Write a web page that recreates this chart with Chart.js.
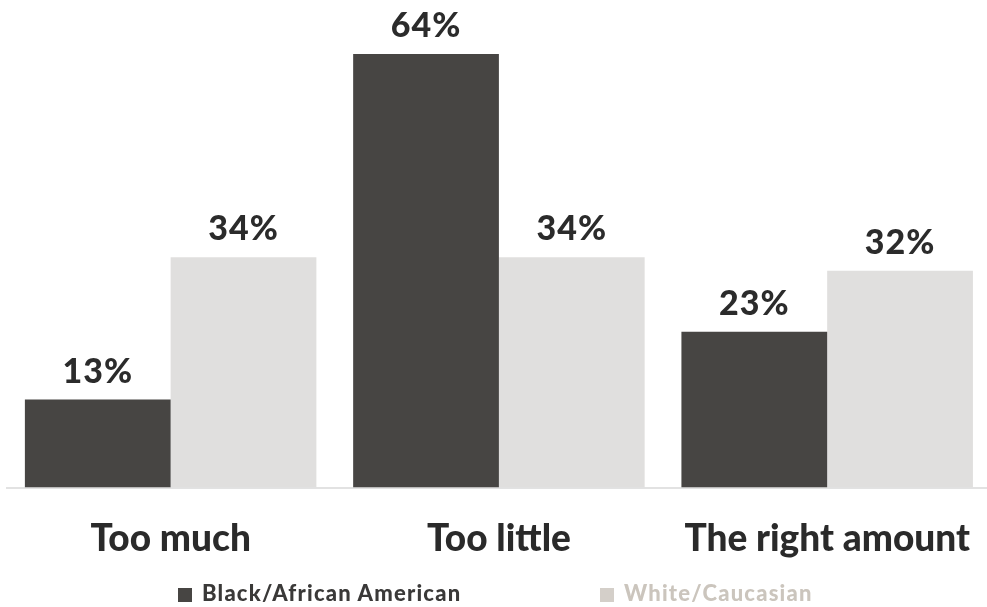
<!DOCTYPE html>
<html>
<head>
<meta charset="utf-8">
<script src="https://cdn.jsdelivr.net/npm/chart.js@4"></script>
<style>
    html, body { margin: 0; padding: 0; background: #fff; overflow: hidden; }
    #wrap { position: relative; width: 1000px; height: 607px; }
    #legend { position: absolute; top: 580px; left: 0; width: 987px; font-family: Lato, sans-serif; font-weight: 900; font-size: 22px; letter-spacing: 1.2px; }
    .leg-item { position: absolute; top: 0; white-space: nowrap; line-height: 26px; }
    .leg-box { display: inline-block; width: 14px; height: 14px; margin-right: 10px; vertical-align: -1px; }
</style>
</head>
<body>
<div id="wrap">
    <canvas id="chart"></canvas>
    <div id="legend"></div>
</div>
<script>
var categories = ['Too much', 'Too little', 'The right amount'];
var seriesNames = ['Black/African American', 'White/Caucasian'];
var blackValues = [13, 64, 23];
var whiteValues = [34, 34, 32];

var barColors = ['#474543', '#e0dfde'];
var legendBoxColors = ['#474543', '#d4cfc9'];
var legendTextColors = ['#3a3938', '#cbc5bd'];
var legendLeft = [178, 600];

var valueLabels = {
    id: 'valueLabels',
    afterDatasetsDraw: function (chart) {
        var ctx = chart.ctx;
        ctx.save();
        ctx.font = '900 34px Lato, sans-serif';
        ctx.letterSpacing = '1px';
        ctx.fillStyle = '#2b2b2b';
        ctx.textAlign = 'center';
        ctx.textBaseline = 'alphabetic';
        chart.data.datasets.forEach(function (ds, i) {
            chart.getDatasetMeta(i).data.forEach(function (bar, j) {
                ctx.fillText(ds.data[j] + '%', bar.x, bar.y - 17);
            });
        });
        ctx.restore();
    }
};

var chart = new Chart(document.getElementById('chart'), {
    type: 'bar',
    data: {
        labels: categories,
        datasets: [
            { label: seriesNames[0], data: blackValues, backgroundColor: barColors[0] },
            { label: seriesNames[1], data: whiteValues, backgroundColor: barColors[1] }
        ]
    },
    options: {
        responsive: true,
        maintainAspectRatio: false,
        animation: false,
        layout: { padding: { top: 54, left: 6.5, right: 6.5, bottom: 17 } },
        datasets: { bar: { categoryPercentage: 0.888, barPercentage: 1 } },
        plugins: { legend: { display: false }, tooltip: { enabled: false } },
        scales: {
            x: {
                grid: { display: false, drawTicks: false },
                border: { display: true, color: '#e2e2e2', width: 2 },
                ticks: {
                    padding: 29,
                    color: '#2a2a2a',
                    font: { family: 'Lato, sans-serif', size: 37, weight: '900' }
                }
            },
            y: {
                display: false,
                min: 0,
                max: 64
            }
        }
    },
    plugins: [valueLabels]
});

var legend = document.getElementById('legend');
seriesNames.forEach(function (name, i) {
    var item = document.createElement('div');
    item.className = 'leg-item';
    item.style.left = legendLeft[i] + 'px';
    item.style.color = legendTextColors[i];
    item.innerHTML = '<span class="leg-box" style="background:' + legendBoxColors[i] + '"></span>' + name;
    legend.appendChild(item);
});
</script>
</body>
</html>
